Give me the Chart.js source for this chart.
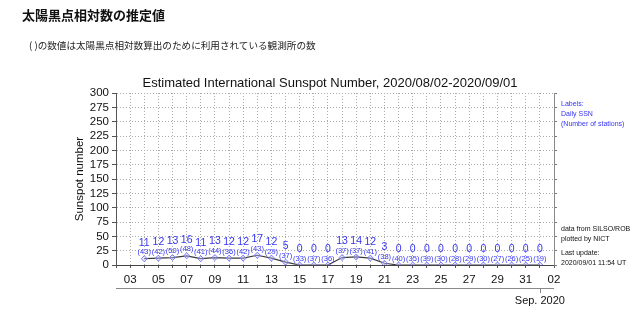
<!DOCTYPE html>
<html lang="ja">
<head>
<meta charset="utf-8">
<title>太陽黒点相対数の推定値</title>
<script src="https://cdn.jsdelivr.net/npm/chart.js@4/dist/chart.umd.min.js"></script>
<style>
    body { margin: 0; background: #fff; }
    .wrap { position: relative; width: 640px; height: 327px; overflow: hidden; }
    #chart { position: absolute; left: 0; top: 0; }
    .head {
        position: absolute; left: 22px; top: 5px;
        font: bold 13px "Noto Sans CJK JP", sans-serif; color: #111;
        line-height: 19px; white-space: nowrap;
    }
    .note {
        position: absolute; left: 29px; top: 38px;
        font: 9.6px "Noto Sans CJK JP", sans-serif; color: #222;
        line-height: 14px; white-space: nowrap;
    }
</style>
</head>
<body>
<div class="wrap">
    <canvas id="chart" width="640" height="327"></canvas>
    <div class="head">太陽黒点相対数の推定値</div>
    <div class="note">( )の数値は太陽黒点相対数算出のために利用されている観測所の数</div>
</div>
<script>
// daily estimated sunspot number and number of reporting stations
const dates = [
    '2020-08-04', '2020-08-05', '2020-08-06', '2020-08-07', '2020-08-08',
    '2020-08-09', '2020-08-10', '2020-08-11', '2020-08-12', '2020-08-13',
    '2020-08-14', '2020-08-15', '2020-08-16', '2020-08-17', '2020-08-18',
    '2020-08-19', '2020-08-20', '2020-08-21', '2020-08-22', '2020-08-23',
    '2020-08-24', '2020-08-25', '2020-08-26', '2020-08-27', '2020-08-28',
    '2020-08-29', '2020-08-30', '2020-08-31', '2020-09-01'
];
const ssn = [11, 12, 13, 16, 11, 13, 12, 12, 17, 12, 5, 0, 0, 0, 13,
             14, 12, 3, 0, 0, 0, 0, 0, 0, 0, 0, 0, 0, 0];
const stations = [43, 42, 50, 48, 41, 44, 36, 42, 43, 29, 37, 33, 37, 36, 37,
                  37, 41, 38, 40, 35, 39, 30, 28, 29, 30, 27, 26, 25, 19];
const yTicks = [0, 25, 50, 75, 100, 125, 150, 175, 200, 225, 250, 275, 300];

const rangeStart = '2020-08-02';
const rangeEnd = '2020-09-02';

const DAY = 86400000;
const t0 = Date.parse(rangeStart);
const dayNum = s => (Date.parse(s) - t0) / DAY + 2;   // 2 = Aug 2

const FONT = "'Liberation Sans', Arial, sans-serif";
const BLUE = '#3434f5';

Chart.defaults.font.family = FONT;
Chart.defaults.color = '#111';

const textPlugin = {
    id: 'sunspotText',
    afterDatasetsDraw(chart) {
        const ctx = chart.ctx;
        const meta = chart.getDatasetMeta(0);
        ctx.save();
        ctx.textAlign = 'center';
        ctx.textBaseline = 'middle';
        ctx.fillStyle = BLUE;
        meta.data.forEach((pt, i) => {
            ctx.font = '10.5px ' + FONT;
            ctx.fillText(String(ssn[i]), pt.x, pt.y - 16);
            ctx.font = '7.5px ' + FONT;
            ctx.fillText('(' + stations[i] + ')', pt.x, pt.y - 6.5);
        });
        ctx.restore();
    },
    afterDraw(chart) {
        const ctx = chart.ctx;
        const area = chart.chartArea;
        const x = chart.scales.x;
        ctx.save();

        // title
        ctx.fillStyle = '#111';
        ctx.textAlign = 'center';
        ctx.textBaseline = 'middle';
        ctx.font = '13px ' + FONT;
        ctx.fillText('Estimated International Sunspot Number, 2020/08/02-2020/09/01', 330, 83);

        // month bar under the date ticks
        const sepX = x.getPixelForValue(dayNum('2020-09-01'));
        ctx.strokeStyle = '#888';
        ctx.lineWidth = 1;
        ctx.beginPath();
        ctx.moveTo(area.left, 288.5);
        ctx.lineTo(area.right, 288.5);
        ctx.moveTo(Math.round(sepX) + 0.5, 288.5);
        ctx.lineTo(Math.round(sepX) + 0.5, 293);
        ctx.stroke();
        ctx.font = '11px ' + FONT;
        ctx.fillText('Sep. 2020', sepX, 301);

        // side notes
        ctx.textAlign = 'left';
        ctx.font = '7px ' + FONT;
        ctx.fillStyle = BLUE;
        ['Labels:', 'Daily SSN', '(Number of stations)'].forEach((s, i) => {
            ctx.fillText(s, 561, 104 + i * 10);
        });
        ctx.fillStyle = '#111';
        ctx.fillText('data from SILSO/ROB', 561, 229);
        ctx.fillText('plotted by NICT', 561, 239);
        ctx.fillText('Last update:', 561, 253);
        ctx.fillText('2020/09/01 11:54 UT', 561, 263);
        ctx.restore();
    }
};

new Chart(document.getElementById('chart'), {
    type: 'line',
    data: {
        datasets: [{
            data: dates.map((d, i) => ({ x: dayNum(d), y: ssn[i] })),
            borderColor: '#3a3a3a',
            borderWidth: 1.2,
            tension: 0,
            pointStyle: 'rectRot',
            pointRadius: 3,
            pointBorderWidth: 1,
            pointBorderColor: '#7a7aff',
            pointBackgroundColor: 'rgba(200,200,255,0.4)'
        }]
    },
    options: {
        responsive: false,
        animation: false,
        events: [],
        layout: { padding: { top: 93, left: 0, right: 0, bottom: 0 } },
        plugins: { legend: { display: false }, tooltip: { enabled: false } },
        scales: {
            x: {
                type: 'linear',
                min: dayNum(rangeStart),
                max: dayNum(rangeEnd),
                afterFit: s => { s.height = 62; },
                afterBuildTicks: s => {
                    s.ticks = [];
                    for (let v = s.min; v <= s.max; v++) s.ticks.push({ value: v });
                },
                ticks: {
                    autoSkip: false,
                    maxRotation: 0,
                    padding: 5,
                    font: { size: 11.5 },
                    color: '#111',
                    callback: v => {
                        if (v % 2 === 0) return '';
                        const d = new Date(t0 + (v - 2) * DAY).getUTCDate();
                        return String(d).padStart(2, '0');
                    }
                },
                grid: { color: '#aaa', tickLength: 3, tickColor: '#555' },
                border: { color: '#444', dash: [1, 2] }
            },
            y: {
                position: 'left',
                min: 0,
                max: 300,
                afterFit: s => { s.width = 116; },
                afterBuildTicks: s => { s.ticks = yTicks.map(v => ({ value: v })); },
                ticks: { autoSkip: false, padding: 3, font: { size: 11.5 }, color: '#111' },
                grid: { color: '#aaa', tickLength: 4, tickColor: '#555' },
                border: { color: '#555', dash: [1, 2] },
                title: {
                    display: true,
                    text: 'Sunspot number',
                    font: { size: 11.5 },
                    color: '#111',
                    padding: { top: 73, bottom: 0 }
                }
            },
            y2: {
                position: 'right',
                min: 0,
                max: 300,
                afterFit: s => { s.width = 86; },
                afterBuildTicks: s => { s.ticks = yTicks.map(v => ({ value: v })); },
                ticks: { display: false, autoSkip: false },
                grid: { drawOnChartArea: false, tickLength: 3, tickColor: '#777' },
                border: { color: '#888' }
            }
        }
    },
    plugins: [textPlugin]
});
</script>
</body>
</html>
